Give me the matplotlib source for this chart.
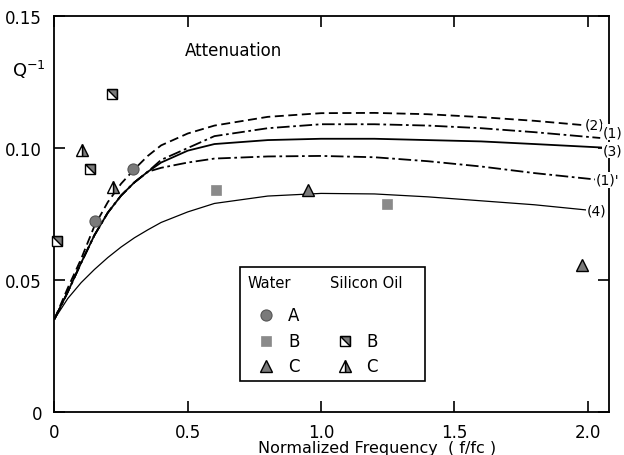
import matplotlib
matplotlib.use("Agg")
import matplotlib.pyplot as plt
from matplotlib.patches import Rectangle

plt.rcParams['font.family'] = ['DejaVu Sans']

# ---- data ----
x_curve = [0, 0.05, 0.1, 0.15, 0.2, 0.25, 0.3, 0.35, 0.4, 0.5, 0.6, 0.8, 1.0, 1.2, 1.4, 1.6, 1.8]
curve2 = [0.0352, 0.047, 0.058, 0.0705, 0.0795, 0.0865, 0.092, 0.097, 0.101, 0.1055, 0.1085, 0.1118, 0.1132, 0.1133, 0.1128, 0.1117, 0.1103]
curve2_end = (1.98, 0.1087)
curve3 = [0.0352, 0.0455, 0.0565, 0.067, 0.0755, 0.082, 0.087, 0.091, 0.0945, 0.099, 0.1015, 0.103, 0.1035, 0.1035, 0.103, 0.1025, 0.1015]
curve3_end = (2.05, 0.1002)
curve1 = [0.0352, 0.0455, 0.0565, 0.067, 0.0755, 0.082, 0.087, 0.091, 0.0955, 0.1, 0.1045, 0.1075, 0.109, 0.109, 0.1085, 0.1075, 0.106]
curve1_end = (2.047, 0.1038)
curve1p = [0.0352, 0.0455, 0.0565, 0.067, 0.0755, 0.082, 0.087, 0.091, 0.0925, 0.0945, 0.096, 0.0968, 0.097, 0.0965, 0.095, 0.093, 0.0905]
curve1p_end = (2.036, 0.088)
curve4 = [0.0352, 0.043, 0.049, 0.054, 0.0585, 0.0625, 0.066, 0.069, 0.0718, 0.0758, 0.079, 0.0818, 0.0828, 0.0826, 0.0815, 0.080, 0.0785]
curve4_end = (1.998, 0.0765)

water_A_x = [0.152, 0.295]
water_A_y = [0.0723, 0.092]
water_B_x = [0.606, 1.248]
water_B_y = [0.0841, 0.0788]
water_C_x = [0.951, 1.98]
water_C_y = [0.0841, 0.0557]
oil_B_x = [0.01, 0.133, 0.216]
oil_B_y = [0.0648, 0.092, 0.1205]
oil_C_x = [0.103, 0.22]
oil_C_y = [0.0992, 0.0852]

x_ticks = [0, 0.5, 1.0, 1.5, 2.0]
x_ticklabels = ['0', '0.5', '1.0', '1.5', '2.0']
y_ticks = [0, 0.05, 0.10, 0.15]
y_ticklabels = ['0', '0.05', '0.10', '0.15']

curve_labels = ['(2)', '(1)', '(3)', "(1)'", '(4)']
label_pos = [(1.99, 0.109), (2.058, 0.106), (2.058, 0.0992), (2.03, 0.0879), (1.998, 0.0765)]

# ---- figure ----
fig = plt.figure(figsize=(6.24, 4.56), dpi=100)
ax = fig.add_axes([0.0873, 0.0943, 0.8887, 0.8684])
ax.set_xlim(0, 2.08)
ax.set_ylim(0, 0.15)

gray = '#7a7a7a'

ax.plot(x_curve + [curve2_end[0]], curve2 + [curve2_end[1]], color='black', lw=1.3,
        linestyle=(0, (5, 2.5)))
ax.plot(x_curve + [curve1_end[0]], curve1 + [curve1_end[1]], color='black', lw=1.3,
        linestyle=(0, (7, 2, 1.5, 2)))
ax.plot(x_curve + [curve3_end[0]], curve3 + [curve3_end[1]], color='black', lw=1.3)
ax.plot(x_curve + [curve1p_end[0]], curve1p + [curve1p_end[1]], color='black', lw=1.3,
        linestyle=(0, (7, 2, 1.5, 2)))
ax.plot(x_curve + [curve4_end[0]], curve4 + [curve4_end[1]], color='black', lw=0.9)

tri_half = [(-1, 1), (1, 1), (1, -1), (-1, 1)]

# data markers
ax.plot(water_A_x, water_A_y, 'o', ms=8, mfc=gray, mec='#555555', mew=0.8, zorder=5, clip_on=False)
ax.plot(water_B_x, water_B_y, 's', ms=7, mfc='#8a8a8a', mec='#8a8a8a', mew=0.5, zorder=5, clip_on=False)
ax.plot(water_C_x, water_C_y, '^', ms=9, mfc=gray, mec='black', mew=1.0, zorder=5, clip_on=False)
ax.plot(oil_B_x, oil_B_y, 's', ms=7, mfc='white', mec='black', mew=1.0, zorder=5, clip_on=False)
ax.plot(oil_B_x, oil_B_y, marker=tri_half, linestyle='none', ms=7, mfc=gray, mec='black', mew=1.0, zorder=6, clip_on=False)
ax.plot(oil_C_x, oil_C_y, '^', ms=9, fillstyle='right', mfc=gray, mfcalt='white', mec='black', mew=1.0, zorder=5, clip_on=False)

# curve labels
for lab, (lx, ly) in zip(curve_labels, label_pos):
    ax.text(lx, ly, lab, ha='left', va='center', fontsize=10, clip_on=False, zorder=10,
            bbox=dict(boxstyle='square,pad=0.05', fc='white', ec='none'))

# ticks and spines
ax.set_xticks(x_ticks)
ax.set_xticklabels(x_ticklabels)
ax.set_yticks(y_ticks)
ax.set_yticklabels(y_ticklabels)
ax.tick_params(direction='in', length=8, width=1.2, top=True, right=True, labelsize=12)
ax.tick_params(axis='x', pad=8)
ax.tick_params(axis='y', pad=9)
for s in ax.spines.values():
    s.set_linewidth(1.3)

ax.text(0.322, 0.914, 'Attenuation', transform=ax.transAxes, ha='center', va='center', fontsize=12)
fig.text(0.047, 0.846, 'Q$^{\\mathregular{-1}}$', ha='center', va='center', fontsize=13)
fig.text(377 / 624, 1 - 449 / 456, 'Normalized Frequency  ( f/fc )', ha='center', va='center', fontsize=11.5)

# legend box (manual)
T = ax.transAxes
ax.add_patch(Rectangle((0.3345, 0.078), 0.3335, 0.288, transform=T, fill=True, fc='white',
                       ec='black', lw=1.2, zorder=7))
ax.text(0.349, 0.328, 'Water', transform=T, ha='left', va='center', fontsize=10.5, zorder=8)
ax.text(0.497, 0.328, 'Silicon Oil', transform=T, ha='left', va='center', fontsize=10.5, zorder=8)
rows = [0.245, 0.179, 0.116]
ax.plot([0.381], [rows[0]], 'o', ms=8, mfc=gray, mec='#555555', mew=0.8, transform=T, zorder=8)
ax.plot([0.381], [rows[1]], 's', ms=7, mfc='#8a8a8a', mec='#8a8a8a', mew=0.5, transform=T, zorder=8)
ax.plot([0.381], [rows[2]], '^', ms=9, mfc=gray, mec='black', mew=1.0, transform=T, zorder=8)
ax.plot([0.524], [rows[1]], 's', ms=7, mfc='white', mec='black', mew=1.0, transform=T, zorder=8)
ax.plot([0.524], [rows[1]], marker=tri_half, linestyle='none', ms=7, mfc=gray, mec='black', mew=1.0, transform=T, zorder=9)
ax.plot([0.524], [rows[2]], '^', ms=9, fillstyle='right', mfc=gray, mfcalt='white', mec='black', mew=1.0, transform=T, zorder=8)
for yy, lab in zip(rows, ['A', 'B', 'C']):
    ax.text(0.421, yy, lab, transform=T, ha='left', va='center', fontsize=12, zorder=8)
for yy, lab in zip(rows[1:], ['B', 'C']):
    ax.text(0.562, yy, lab, transform=T, ha='left', va='center', fontsize=12, zorder=8)

fig.savefig('out.png', dpi=100)
